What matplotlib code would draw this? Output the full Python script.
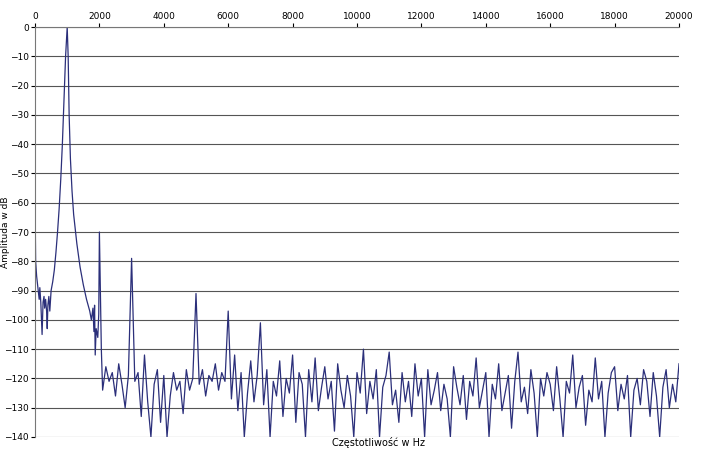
import matplotlib
matplotlib.use("Agg")
import matplotlib.pyplot as plt
import numpy as np

head_f = [0,20,50,100,130,150,180,200,220,250,280,300,330,360,380,400,430,460,500,550,600,650,700,750,800,850,900,950,1000,1030,1060,1100,1150,1200,1300,1400,1500,1600,1700,1750,1800,1830,1850,1870,1900,1950,1980,2000,2030,2060]
head_db = [-58,-80,-85,-90,-93,-89,-94,-100,-105,-94,-92,-96,-93,-97,-103,-95,-92,-97,-90,-87,-83,-77,-70,-62,-52,-40,-25,-10,0,-10,-30,-45,-56,-64,-74,-82,-88,-93,-97,-100,-96,-104,-95,-112,-103,-106,-98,-70,-90,-110]

noise_db = [
 -124,-116,-121,-118,-126,-115,-122,-130,-119, -79,-121,-118,-133,-112,-128,-140,-122,-117,-135,
 -119,-140,-126,-118,-124,-121,-132,-117,-124,-120, -91,-122,-117,-126,-119,-121,-115,-124,-118,-121,
 -97,-127,-112,-131,-118,-140,-125,-114,-128,-119, -101,-129,-117,-140,-121,-126,-114,-133,-120,-125,
 -112,-135,-118,-122,-140,-117,-128,-113,-131,-123, -116,-127,-121,-138,-115,-124,-130,-119,-126,-140,
 -118,-125,-110,-132,-121,-127,-117,-140,-123,-119, -111,-129,-124,-135,-118,-128,-121,-133,-115,-126,
 -120,-140,-117,-129,-124,-118,-131,-122,-127,-140, -116,-123,-129,-119,-134,-121,-126,-113,-130,-124,
 -118,-140,-122,-127,-115,-131,-125,-119,-137,-121, -111,-128,-123,-132,-117,-125,-140,-120,-126,-118,
 -122,-131,-116,-127,-140,-121,-125,-112,-130,-123, -119,-136,-124,-128,-113,-127,-121,-140,-125,-118,
 -116,-131,-122,-127,-119,-140,-124,-120,-129,-117, -121,-133,-118,-126,-140,-123,-117,-130,-122,-128,
 -115,-127,-121,-136,-118,-125,-131,-119,-126,-116, -124,-132,-117,-128,-121,
]
noise_f = list(range(2100, 2100 + 100 * len(noise_db), 100))

freq = np.array(head_f + noise_f, dtype=float)
db = np.array(head_db + noise_db, dtype=float)
mask = freq <= 20000

fig = plt.figure(figsize=(7.05, 4.51), dpi=100)
ax = fig.add_axes([35/705, 1 - 437/451, 644/705, 410/451])
ax.plot(freq[mask], db[mask], color="#2b2f7a", lw=0.9)
ax.set_xlim(0, 20000)
ax.set_ylim(-140, 0)
ax.set_xticks(range(0, 20001, 2000))
ax.set_yticks(range(-140, 1, 10))
ax.xaxis.tick_top()
ax.tick_params(labelsize=6.5, length=3, direction="out", pad=1.5)
ax.yaxis.grid(True, color="#555555", lw=0.8)
for s in ["right", "bottom"]:
    ax.spines[s].set_visible(False)
ax.spines["top"].set_color("#777777")
ax.spines["left"].set_color("#777777")
fig.text(6/705, 1 - 232/451, "Amplituda w dB", fontsize=6.5, rotation=90, ha="center", va="center")
fig.text(378/705, 1 - 443/451, "Częstotliwość w Hz", fontsize=7, ha="center", va="center")
fig.savefig("out.png", dpi=100)
